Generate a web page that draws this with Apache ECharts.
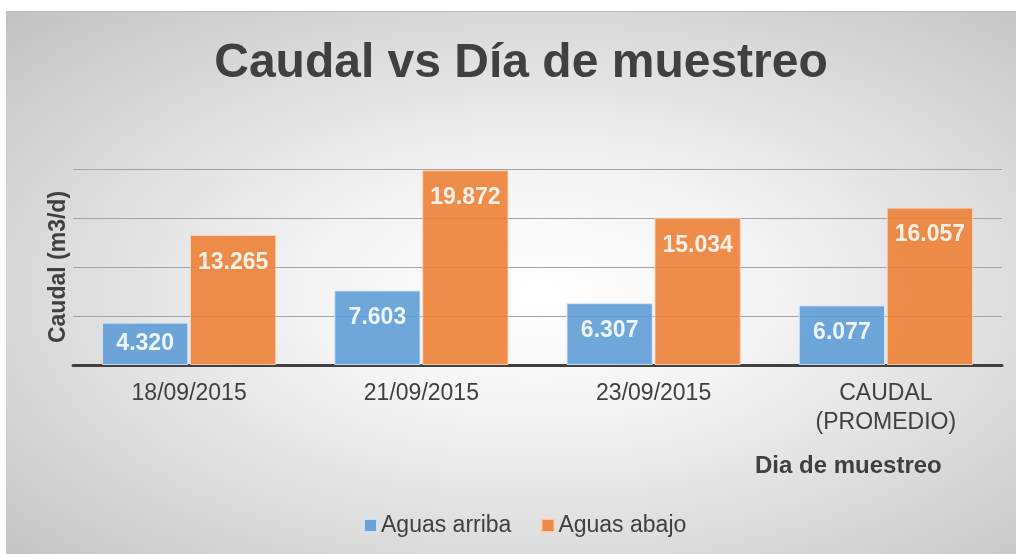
<!DOCTYPE html>
<html>
<head>
<meta charset="utf-8">
<script src="https://cdn.jsdelivr.net/npm/echarts@6/dist/echarts.min.js"></script>
<style>
  html, body {
    margin: 0;
    padding: 0;
    background: #ffffff;
  }

  .frame {
    position: absolute;
    left: 6px;
    top: 11px;
    width: 1010px;
    height: 543px;
    border-top: 1px solid #b9b9b9;
    box-sizing: border-box;
    background: radial-gradient(ellipse farthest-corner at 53% 52%, #ffffff 0%, #f4f4f4 30%, #dcdcdc 65%, #c2c2c2 100%);
  }

  #chart {
    width: 1010px;
    height: 542px;
  }
</style>
</head>
<body>
<div class="frame">
  <div id="chart"></div>
</div>
<script>
const categories = ['18/09/2015', '21/09/2015', '23/09/2015', 'CAUDAL\n(PROMEDIO)']
const aguasArriba = [4.320, 7.603, 6.307, 6.077]
const aguasAbajo = [13.265, 19.872, 15.034, 16.057]
const yTicks = [0, 5, 10, 15, 20]

const FONT = '"Liberation Sans", Arial, sans-serif'
const TEXT_COLOR = '#404040'

const barLabel = {
  show: true,
  position: 'insideTop',
  distance: 16,
  color: '#ffffff',
  fontFamily: FONT,
  fontWeight: 'bold',
  fontSize: 23,
  formatter(params) {
    return Number(params.value).toFixed(3)
  }
}

// short bars get their label centred, like the spreadsheet does
const toBarData = (values) => values.map((value) => {
  if (value < 5) {
    return { value, label: { position: 'inside' } }
  }
  return value
})

const chart = echarts.init(document.getElementById('chart'))

chart.setOption({
  animation: false,
  backgroundColor: 'transparent',
  textStyle: {
    fontFamily: FONT
  },
  title: {
    text: 'Caudal vs Día de muestreo',
    left: 510,
    top: 23,
    textAlign: 'center',
    textStyle: {
      color: TEXT_COLOR,
      fontFamily: FONT,
      fontWeight: 'bold',
      fontSize: 48
    }
  },
  legend: {
    left: 352,
    top: 497,
    icon: 'rect',
    itemWidth: 13,
    itemHeight: 13,
    itemGap: 29,
    textStyle: {
      color: TEXT_COLOR,
      fontFamily: FONT,
      fontSize: 23,
      padding: [0, 0, 0, -1]
    },
    data: ['Aguas arriba', 'Aguas abajo']
  },
  grid: {
    left: 67,
    right: 14,
    top: 157,
    bottom: 189,
    containLabel: false
  },
  xAxis: {
    type: 'category',
    data: categories,
    axisLine: {
      lineStyle: {
        color: '#404040',
        width: 3
      }
    },
    axisTick: {
      show: false
    },
    axisLabel: {
      color: TEXT_COLOR,
      fontFamily: FONT,
      fontSize: 23,
      lineHeight: 29,
      margin: 14,
      interval: 0
    }
  },
  yAxis: {
    type: 'value',
    min: yTicks[0],
    max: yTicks[yTicks.length - 1],
    interval: yTicks[1] - yTicks[0],
    name: 'Caudal (m3/d)',
    nameLocation: 'middle',
    nameRotate: 90,
    nameGap: 3,
    nameTextStyle: {
      color: TEXT_COLOR,
      fontFamily: FONT,
      fontWeight: 'bold',
      fontSize: 23
    },
    axisLine: {
      show: false
    },
    axisTick: {
      show: false
    },
    axisLabel: {
      show: false
    },
    splitLine: {
      lineStyle: {
        color: '#a3a3a3',
        width: 1
      }
    }
  },
  graphic: [
    {
      type: 'text',
      left: 749,
      top: 442,
      style: {
        text: 'Dia de muestreo',
        fill: TEXT_COLOR,
        font: 'bold 24px ' + FONT
      }
    }
  ],
  series: [
    {
      name: 'Aguas arriba',
      type: 'bar',
      barCategoryGap: '25%',
      barGap: '2%',
      itemStyle: {
        color: '#5b9bd5',
        opacity: 0.88,
        borderColor: '#d6e6f5',
        borderWidth: 1
      },
      label: barLabel,
      data: toBarData(aguasArriba)
    },
    {
      name: 'Aguas abajo',
      type: 'bar',
      barCategoryGap: '25%',
      barGap: '2%',
      itemStyle: {
        color: '#ed7d31',
        opacity: 0.88,
        borderColor: '#f8d5bd',
        borderWidth: 1
      },
      label: barLabel,
      data: toBarData(aguasAbajo)
    }
  ]
})
</script>
</body>
</html>
